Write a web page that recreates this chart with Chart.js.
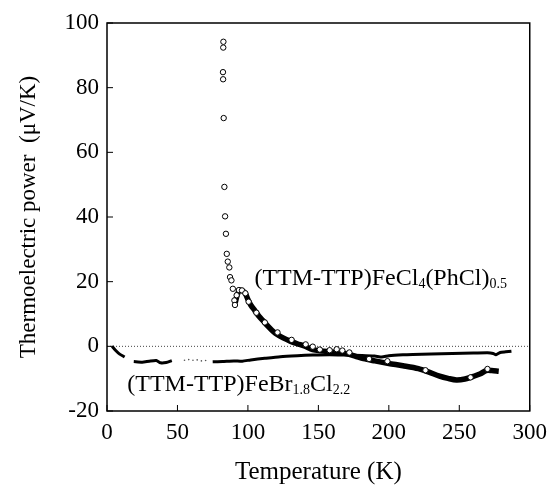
<!DOCTYPE html>
<html>
<head>
<meta charset="utf-8">
<script src="https://cdn.jsdelivr.net/npm/chart.js@4/dist/chart.umd.min.js"></script>
<style>
  body { margin: 0; background: #fff; }
  #wrap { width: 555px; height: 490px; position: relative; }
</style>
</head>
<body>
<div id="wrap"><canvas id="tep-chart"></canvas></div>
<script>
// (TTM-TTP)FeCl4(PhCl)0.5 - open circles (sparse upper branch + a few along the band)
const clCircleTemp = [82.6, 82.5, 82.3, 82.4, 82.8, 83.3, 83.8, 84.4, 85.0, 85.7, 86.8, 87.3, 88.3, 89.3, 90.4, 90.8,
    92.0, 93.6, 95.8, 98.2, 100.5, 106, 112, 121, 131, 141, 146, 151, 158, 163, 167, 172, 186, 199, 226, 258, 270];
const clCirclePower = [94.2, 92.4, 84.8, 82.6, 70.6, 49.3, 40.2, 34.8, 28.6, 26.2, 24.4, 21.4, 20.4, 17.8, 14.2, 12.8,
    15.8, 17.4, 17.3, 16.4, 13.8, 10.4, 7.4, 4.3, 2.0, 0.6, -0.1, -1.0, -1.2, -0.9, -1.3, -1.9, -3.9, -4.6, -7.4, -9.6, -7.0];

// (TTM-TTP)FeCl4(PhCl)0.5 - dense part of the data (overlapping circles look like a thick band)
const clBandTemp = [91, 92.5, 94, 96, 98, 100, 102, 105, 108, 111, 114, 117, 120, 125, 130, 135, 140, 146, 152, 158,
    164, 170, 176, 182, 190, 200, 210, 221, 228, 236, 242, 248, 254, 260, 265, 269, 273, 278];
const clBandPower = [13.5, 16, 17.3, 17.2, 16.5, 14.5, 12.8, 11, 9.2, 7.8, 6.3, 5, 3.9, 2.6, 1.6, 0.8, 0.1, -1.0, -1.4, -1.7,
    -2.0, -2.3, -3.0, -3.8, -4.5, -5.3, -6.0, -6.9, -7.9, -9.2, -9.9, -10.4, -10.1, -9.3, -8.5, -7.5, -7.5, -7.7];

// (TTM-TTP)FeBr1.8Cl2.2 - null marks a gap in the measured trace
const brTemp = [3.6, 6, 9, 12.5, null, 19, 25, 30, 35, 38, 42, 46, null, 75, 82, 90, 96, 102, 112, 123, 135, 146, 158,
    170, 181, 190, 195, 200, 210, 217, 230, 245, 260, 270, 274, 276, 279, 283, 287];
const brPower = [0, -1.2, -2.4, -3.3, null, -4.7, -4.9, -4.6, -4.4, -5.1, -5.0, -4.4, null, -4.8, -4.7, -4.5, -4.6, -4.2,
    -3.7, -3.2, -2.9, -2.7, -2.6, -2.7, -2.8, -3.0, -3.3, -2.9, -2.6, -2.5, -2.4, -2.2, -2.1, -2.0, -2.2, -2.6, -1.9, -1.7, -1.5];

// faint dots inside the gap of the FeBr trace
const brDotTemp = [55, 58, 61, 64, 67, 70];
const brDotPower = [-4.3, -4.1, -4.3, -4.2, -4.5, -4.4];

// zero reference line
const zeroTemp = [0, 300];
const zeroPower = [0, 0];

const serif = "'Liberation Serif', 'Times New Roman', serif";

function toPoints(xs, ys) {
    return xs.map((t, i) => ({ x: t, y: ys[i] }));
}

// Frame, inward ticks and compound labels with subscripts
const framePlugin = {
    id: 'framePlugin',
    afterDatasetsDraw(chart) {
        const { ctx, chartArea: a, scales: { x, y } } = chart;
        ctx.save();
        ctx.strokeStyle = '#000';
        ctx.lineWidth = 1.5;
        ctx.strokeRect(a.left, a.top, a.right - a.left, a.bottom - a.top);

        ctx.lineWidth = 1;
        ctx.beginPath();
        x.ticks.forEach(t => {
            const px = x.getPixelForValue(t.value);
            ctx.moveTo(px, a.bottom);
            ctx.lineTo(px, a.bottom - 6);
        });
        y.ticks.forEach(t => {
            const py = y.getPixelForValue(t.value);
            ctx.moveTo(a.left, py);
            ctx.lineTo(a.left + 6, py);
        });
        ctx.stroke();

        // labels: at = [temperature, power] of the left end of the text baseline
        const labels = chart.options.plugins.framePlugin.labels;
        ctx.fillStyle = '#000';
        ctx.textBaseline = 'alphabetic';
        ctx.textAlign = 'left';
        labels.forEach(lab => {
            let cx = x.getPixelForValue(lab.at[0]);
            const base = y.getPixelForValue(lab.at[1]);
            lab.parts.forEach(([text, sub]) => {
                ctx.font = (sub ? '14px ' : '24px ') + serif;
                ctx.fillText(text, cx, sub ? base + 3 : base);
                cx += ctx.measureText(text).width;
            });
        });
        ctx.restore();
    }
};

const ctx = document.getElementById('tep-chart').getContext('2d');
const tepChart = new Chart(ctx, {
    type: 'scatter',
    data: {
        datasets: [
            {
                label: 'FeCl4(PhCl)0.5 points',
                data: toPoints(clCircleTemp, clCirclePower),
                pointStyle: 'circle',
                pointRadius: 2.7,
                borderWidth: 1,
                borderColor: '#000',
                backgroundColor: '#fff'
            },
            {
                label: 'FeCl4(PhCl)0.5',
                data: toPoints(clBandTemp, clBandPower),
                showLine: true,
                borderColor: '#000',
                borderWidth: 5.5,
                pointRadius: 0,
                tension: 0.3
            },
            {
                label: 'FeBr1.8Cl2.2',
                data: toPoints(brTemp, brPower),
                showLine: true,
                spanGaps: false,
                borderColor: '#000',
                borderWidth: 3,
                pointRadius: 0,
                tension: 0.2
            },
            {
                label: 'FeBr1.8Cl2.2 dots',
                data: toPoints(brDotTemp, brDotPower),
                pointRadius: 0.8,
                borderWidth: 0,
                backgroundColor: '#555'
            },
            {
                label: 'zero',
                data: toPoints(zeroTemp, zeroPower),
                showLine: true,
                borderColor: '#444',
                borderWidth: 1,
                borderDash: [1, 2],
                pointRadius: 0
            }
        ]
    },
    options: {
        responsive: true,
        maintainAspectRatio: false,
        animation: false,
        layout: {
            padding: { top: 23, right: 23, left: 0, bottom: 0 }
        },
        scales: {
            x: {
                type: 'linear',
                min: 0,
                max: 300,
                ticks: {
                    stepSize: 50,
                    color: '#000',
                    padding: 8,
                    maxRotation: 0,
                    font: { family: serif, size: 23 }
                },
                grid: { display: false, drawTicks: false },
                border: { display: false },
                title: {
                    display: true,
                    text: 'Temperature (K)',
                    color: '#000',
                    font: { family: serif, size: 25, lineHeight: 1.0 },
                    padding: { top: 0, bottom: 5 }
                },
                afterFit: scale => { scale.height = 79; }
            },
            y: {
                min: -20,
                max: 100,
                ticks: {
                    stepSize: 20,
                    color: '#000',
                    padding: 8,
                    font: { family: serif, size: 23 }
                },
                grid: { display: false, drawTicks: false },
                border: { display: false },
                title: {
                    display: true,
                    text: 'Thermoelectric power  (\u03bcV/K)',
                    color: '#000',
                    font: { family: serif, size: 23 },
                    padding: { top: 15, bottom: 0 }
                },
                afterFit: scale => { scale.width = 107; }
            }
        },
        plugins: {
            legend: { display: false },
            tooltip: { enabled: false },
            framePlugin: {
                labels: [
                    { at: [104.6, 19.0], parts: [['(TTM-TTP)FeCl', false], ['4', true], ['(PhCl)', false], ['0.5', true]] },
                    { at: [14.4, -13.9], parts: [['(TTM-TTP)FeBr', false], ['1.8', true], ['Cl', false], ['2.2', true]] }
                ]
            }
        }
    },
    plugins: [framePlugin]
});
</script>
</body>
</html>
